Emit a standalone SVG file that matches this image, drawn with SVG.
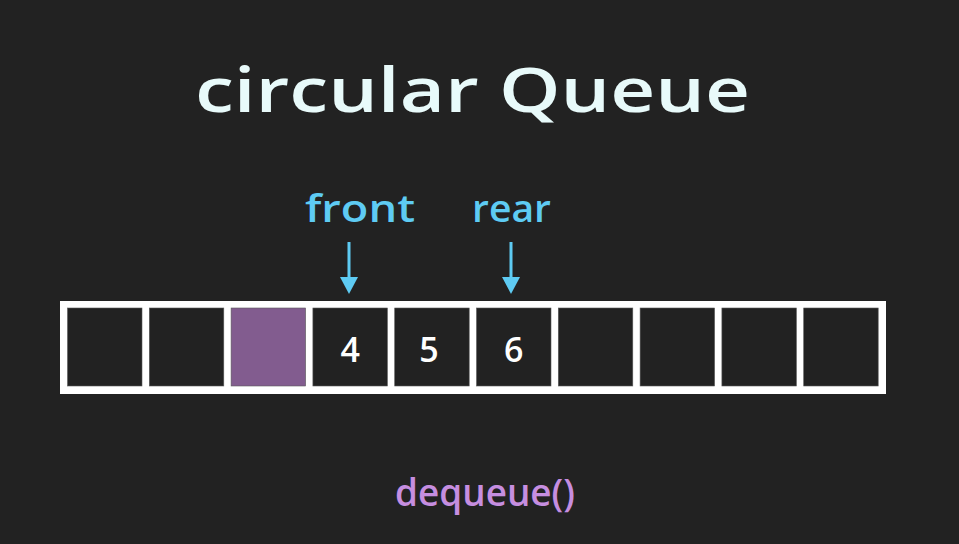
<svg xmlns="http://www.w3.org/2000/svg" width="959" height="544" viewBox="0 0 959 544">
<style>
.cell{fill:#222222;stroke:#5a5a5a;stroke-width:0.6}
.dq{fill:#825c8f}
.num{font-family:"Open Sans","Noto Sans",sans-serif;font-size:34px;font-weight:600;fill:#ffffff;text-anchor:middle}
.ptr{font-family:"Open Sans","Noto Sans",sans-serif;font-size:38px;font-weight:600;fill:#5ecbf3}
.arr{stroke:#5ecbf3;stroke-width:3;fill:none}
.head{fill:#5ecbf3}
</style>
<rect width="959" height="544" fill="#222222"/>
<g id="title">
<text x="195" y="112" font-family="'Open Sans','Noto Sans',sans-serif" font-size="62" font-weight="600" fill="#e8fafa" textLength="555" lengthAdjust="spacingAndGlyphs">circular Queue</text>
</g>
<g id="array">
<rect x="60" y="301" width="826" height="93" fill="#ffffff"/>
<g id="cell0"><rect class="cell" x="67.5" y="308" width="74.5" height="78"/></g>
<g id="cell1"><rect class="cell" x="149.3" y="308" width="74.5" height="78"/></g>
<g id="cell2"><rect class="cell dq" x="231.1" y="308" width="74.5" height="78"/></g>
<g id="cell3"><rect class="cell" x="312.9" y="308" width="74.5" height="78"/><text class="num" x="350.2" y="362">4</text></g>
<g id="cell4"><rect class="cell" x="394.7" y="308" width="74.5" height="78"/><text class="num" x="429" y="362">5</text></g>
<g id="cell5"><rect class="cell" x="476.5" y="308" width="74.5" height="78"/><text class="num" x="513.8" y="362">6</text></g>
<g id="cell6"><rect class="cell" x="558.3" y="308" width="74.5" height="78"/></g>
<g id="cell7"><rect class="cell" x="640.1" y="308" width="74.5" height="78"/></g>
<g id="cell8"><rect class="cell" x="721.9" y="308" width="74.5" height="78"/></g>
<g id="cell9"><rect class="cell" x="803.7" y="308" width="74.5" height="78"/></g>
</g>
<g id="front"><text class="ptr" x="305" y="222" textLength="110" lengthAdjust="spacingAndGlyphs">front</text></g>
<g id="rear"><text class="ptr" x="472" y="222" textLength="79" lengthAdjust="spacingAndGlyphs">rear</text></g>
<g id="connectors">
<line class="arr" x1="349" y1="242" x2="349" y2="280"/>
<polygon class="head" points="340,277 358,277 349,294"/>
<line class="arr" x1="511" y1="242" x2="511" y2="280"/>
<polygon class="head" points="502,277 520,277 511,294"/>
</g>
<g id="op"><text x="395" y="506" font-family="'Open Sans','Noto Sans',sans-serif" font-size="38" font-weight="600" fill="#c68ee0" textLength="180" lengthAdjust="spacingAndGlyphs">dequeue()</text></g>
</svg>
